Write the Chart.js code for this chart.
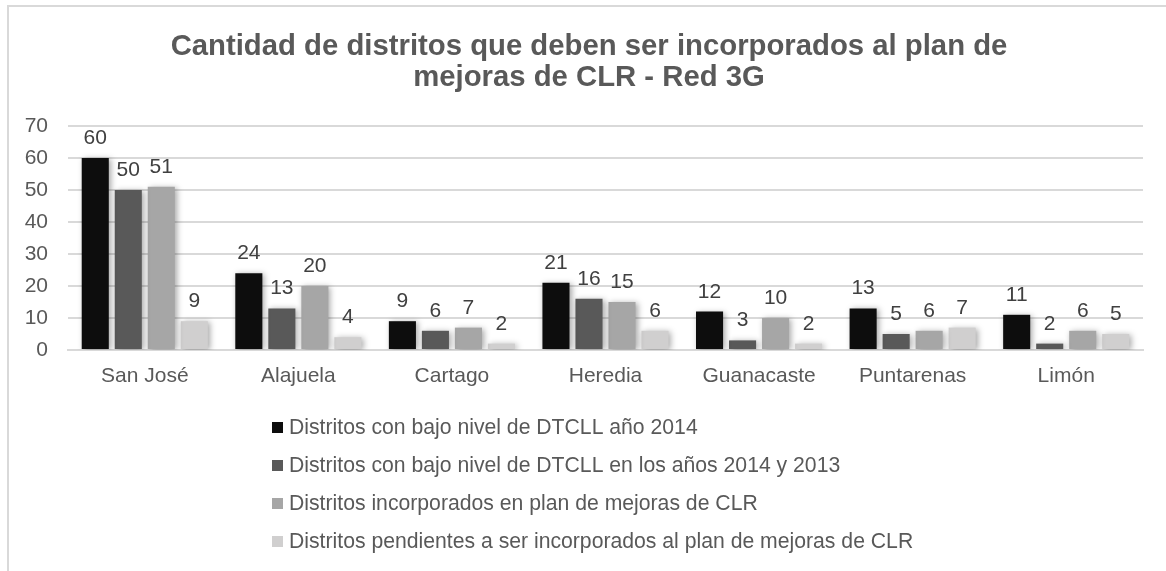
<!DOCTYPE html>
<html>
<head>
<meta charset="utf-8">
<script src="https://cdn.jsdelivr.net/npm/chart.js@4/dist/chart.umd.min.js"></script>
<style>
  html, body { margin: 0; padding: 0; background: #fff; }
  canvas { display: block; }
</style>
</head>
<body>
<canvas id="chart1" width="1166" height="571"></canvas>
<script>
var provincias = ['San José', 'Alajuela', 'Cartago', 'Heredia', 'Guanacaste', 'Puntarenas', 'Limón'];
var bajo2014 = [60, 24, 9, 21, 12, 13, 11];
var bajo2014y2013 = [50, 13, 6, 16, 3, 5, 2];
var incorporados = [51, 20, 7, 15, 10, 6, 6];
var pendientes = [9, 4, 2, 6, 2, 7, 5];
var nombresSeries = [
    'Distritos con bajo nivel de DTCLL año 2014',
    'Distritos con bajo nivel de DTCLL en los años 2014 y 2013',
    'Distritos incorporados en plan de mejoras de CLR',
    'Distritos pendientes a ser incorporados al plan de mejoras de CLR'
];
var titulo = ['Cantidad de distritos que deben ser incorporados al plan de', 'mejoras de CLR - Red 3G'];
var colores = ['#0d0d0d', '#595959', '#a6a6a6', '#d0cfcf'];
var fuente = '"Liberation Sans", Arial, sans-serif';

// marco exterior y titulo centrado en el marco
var marcoPlugin = {
    id: 'marco',
    beforeDraw: function(chart) {
        var ctx = chart.ctx;
        ctx.save();
        ctx.fillStyle = '#d9d9d9';
        ctx.fillRect(7, 5, chart.width, 2);
        ctx.fillRect(7, 5, 2, chart.height);
        ctx.font = 'bold 29.3px ' + fuente;
        ctx.fillStyle = '#595959';
        ctx.textAlign = 'center';
        ctx.textBaseline = 'middle';
        titulo.forEach(function(linea, i) {
            ctx.fillText(linea, 589, 47 + i * 31);
        });
        ctx.restore();
    }
};

// sombra suave de las barras
var sombraPlugin = {
    id: 'sombra',
    beforeDatasetsDraw: function(chart) {
        var ctx = chart.ctx;
        ctx.save();
        ctx.shadowColor = 'rgba(0,0,0,0.35)';
        ctx.shadowBlur = 6;
        ctx.shadowOffsetX = 2;
        ctx.shadowOffsetY = 1;
    },
    afterDatasetsDraw: function(chart) {
        chart.ctx.restore();
    }
};

// valores encima de cada barra
var etiquetasPlugin = {
    id: 'etiquetas',
    afterDatasetsDraw: function(chart) {
        var ctx = chart.ctx;
        ctx.save();
        ctx.font = '21px ' + fuente;
        ctx.fillStyle = '#404040';
        ctx.textAlign = 'center';
        ctx.textBaseline = 'alphabetic';
        chart.data.datasets.forEach(function(ds, i) {
            chart.getDatasetMeta(i).data.forEach(function(bar, j) {
                ctx.fillText(ds.data[j], bar.x, bar.y - 14);
            });
        });
        ctx.restore();
    }
};

// leyenda en lista vertical debajo del eje
var leyendaPlugin = {
    id: 'leyendaVertical',
    afterDraw: function(chart) {
        var ctx = chart.ctx;
        ctx.save();
        ctx.font = '21.2px ' + fuente;
        ctx.textBaseline = 'middle';
        chart.data.datasets.forEach(function(ds, i) {
            var y = 427 + i * 38;
            ctx.fillStyle = ds.backgroundColor;
            ctx.fillRect(272, y - 5, 11, 11);
            ctx.fillStyle = '#595959';
            ctx.fillText(ds.label, 289, y + 1);
        });
        ctx.restore();
    }
};

var series = [bajo2014, bajo2014y2013, incorporados, pendientes];

var ctx1 = document.getElementById('chart1').getContext('2d');
new Chart(ctx1, {
    type: 'bar',
    plugins: [marcoPlugin, sombraPlugin, etiquetasPlugin, leyendaPlugin],
    data: {
        labels: provincias,
        datasets: series.map(function(valores, i) {
            return {
                label: nombresSeries[i],
                data: valores,
                backgroundColor: colores[i],
                borderWidth: 0,
                barPercentage: 0.82,
                categoryPercentage: 0.86
            };
        })
    },
    options: {
        responsive: false,
        animation: false,
        layout: { padding: { left: 8, right: 23, top: 126, bottom: 181 } },
        plugins: {
            legend: { display: false },
            tooltip: { enabled: false },
            title: { display: false }
        },
        scales: {
            x: {
                grid: { display: false },
                border: { color: '#d9d9d9', width: 2 },
                ticks: { color: '#595959', font: { family: fuente, size: 21 }, padding: 6 },
                afterFit: function(scale) { scale.height = 40; }
            },
            y: {
                min: 0,
                max: 70,
                grid: { color: '#d9d9d9', lineWidth: 2, drawTicks: false },
                border: { display: false },
                ticks: { stepSize: 10, color: '#595959', font: { family: fuente, size: 21 }, padding: 20 },
                afterFit: function(scale) { scale.width = 60; }
            }
        }
    }
});
</script>
</body>
</html>
